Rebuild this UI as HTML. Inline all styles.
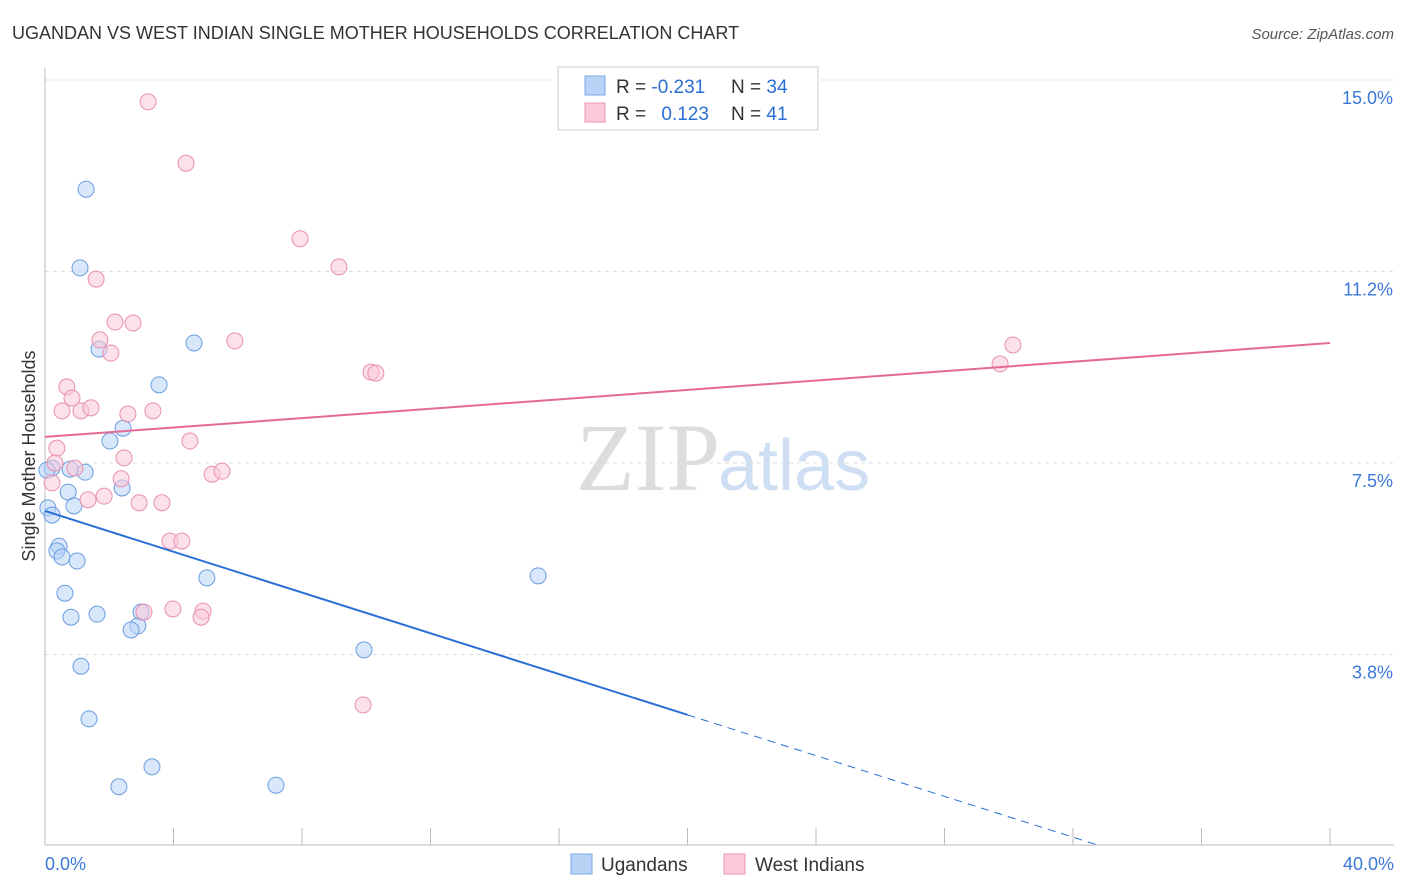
<!DOCTYPE html>
<html><head><meta charset="utf-8"><style>
body{margin:0;background:#fff;font-family:"Liberation Sans",sans-serif}
svg{display:block}
</style></head><body>
<svg id="c" width="1406" height="892">
<text x="12" y="39" font-size="18" fill="#333">UGANDAN VS WEST INDIAN SINGLE MOTHER HOUSEHOLDS CORRELATION CHART</text>
<text x="1394" y="39" font-size="15" fill="#555" font-style="italic" text-anchor="end">Source: ZipAtlas.com</text>
<text x="35" y="456" font-size="18" fill="#333" transform="rotate(-90 35 456)" text-anchor="middle">Single Mother Households</text>
<text x="720" y="490" font-size="96" fill="#ddd" text-anchor="end" font-family="Liberation Serif,serif">ZIP</text>
<text x="718" y="490" font-size="72" fill="#cfdff3">atlas</text>
<g id="grid"></g><g id="marks"></g>
<g>
<rect x="558" y="67" width="260" height="63" fill="#fff" stroke="#ccc"/>
<rect x="585" y="76" width="20" height="19" fill="#b8d3f5" stroke="#7aa8e6"/>
<rect x="585" y="103" width="20" height="19" fill="#fbc9d8" stroke="#eb95b0"/>
<text x="616" y="93" font-size="19" fill="#333">R = <tspan fill="#2a6fd6">-0.231</tspan></text>
<text x="731" y="93" font-size="19" fill="#333">N = <tspan fill="#2a6fd6">34</tspan></text>
<text x="616" y="120" font-size="19" fill="#333">R = <tspan fill="#2a6fd6" dx="10">0.123</tspan></text>
<text x="731" y="120" font-size="19" fill="#333">N = <tspan fill="#2a6fd6">41</tspan></text>
</g>
<g>
<rect x="571" y="854" width="21" height="20" fill="#b8d3f5" stroke="#7aa8e6"/>
<text x="601" y="871" font-size="19" fill="#333">Ugandans</text>
<rect x="724" y="854" width="21" height="20" fill="#fbc9d8" stroke="#eb95b0"/>
<text x="755" y="871" font-size="19" fill="#333">West Indians</text>
</g>
</svg>
<script>
const yTicks=[15,11.25,7.5,3.75];
const yTickLabels=["15.0%","11.2%","7.5%","3.8%"];
const xTicks=[0,4,8,12,16,20,24,28,32,36,40];
const xEndLabels=["0.0%","40.0%"];
const ugX=[1.28,1.09,1.68,4.64,3.55,2.43,2.02,0.22,0.78,1.25,2.40,0.72,0.09,0.90,0.22,0.44,0.37,0.53,1.00,5.04,15.35,0.62,0.81,1.62,2.99,2.89,2.68,9.93,1.12,1.37,3.33,2.30,7.19,0.06];
const ugY=[12.86,11.32,9.73,9.85,9.03,8.18,7.93,7.40,7.38,7.32,7.01,6.93,6.62,6.66,6.48,5.87,5.78,5.66,5.58,5.25,5.29,4.95,4.48,4.54,4.58,4.31,4.23,3.84,3.52,2.49,1.55,1.16,1.19,7.36];
const wiX=[3.21,4.39,7.94,9.15,1.59,2.18,2.74,1.71,2.05,5.91,30.13,29.73,10.15,10.30,0.68,0.84,0.53,1.12,1.43,2.58,3.36,0.37,4.51,2.46,0.31,0.93,5.20,5.51,2.37,0.22,1.84,1.34,2.93,3.64,3.89,4.26,3.98,4.92,4.86,3.08,9.90];
const wiY=[14.57,13.37,11.89,11.34,11.10,10.26,10.24,9.91,9.65,9.89,9.81,9.44,9.28,9.26,8.99,8.77,8.52,8.52,8.58,8.46,8.52,7.79,7.93,7.60,7.50,7.40,7.28,7.34,7.19,7.11,6.85,6.78,6.72,6.72,5.97,5.97,4.64,4.60,4.48,4.58,2.76];
const ugTrend=[6.56,-0.1996];
const wiTrend=[8.01,0.046];
const NS="http://www.w3.org/2000/svg";
const X=v=>45+v*32.125, Y=v=>846-v*51.07;
function mk(t,a,p){const e=document.createElementNS(NS,t);for(const k in a)e.setAttribute(k,a[k]);p.appendChild(e);return e;}
const g=document.getElementById('grid'),m=document.getElementById('marks');
yTicks.forEach((v,i)=>{
 const l=mk('line',{x1:45,x2:1394,y1:Y(v),y2:Y(v),stroke:'#ddd','stroke-dasharray':'4,4'},g);
 
 
 const t=mk('text',{x:1393,y:Y(v)+24,'font-size':18,fill:'#3b78d8','text-anchor':'end'},g);
 t.textContent=yTickLabels[i];
 
 
});
const ax=mk('line',{x1:45,x2:1394,y1:845,y2:845,stroke:'#bbb'},g);


const ay=mk('line',{x1:45,x2:45,y1:68,y2:845,stroke:'#bbb'},g);


xTicks.forEach(v=>{
 const l=mk('line',{x1:X(v),x2:X(v),y1:828,y2:845,stroke:'#bbb'},g);
 
 
});
[[0,'start',45],[40,'end',1394]].forEach((d,i)=>{
 const t=mk('text',{x:d[2],y:870,'font-size':18,fill:'#3b78d8','text-anchor':d[1]},g);
 t.textContent=xEndLabels[i];
 
 
});
function pts(xs,ys,fill,stroke,name){xs.forEach((x,i)=>{
 const c=mk('circle',{cx:X(x),cy:Y(ys[i]),r:8,fill:fill,'fill-opacity':0.55,stroke:stroke,'stroke-width':1},m);
 
 
});}
pts(ugX,ugY,'#b8d3f5','#6a9de0','ugandan-point');
pts(wiX,wiY,'#fbc9d8','#e890ac','west-indian-point');
const ty=(t,x)=>t[0]+t[1]*x;
let l=mk('line',{x1:X(0),y1:Y(ty(ugTrend,0)),x2:X(20),y2:Y(ty(ugTrend,20)),stroke:'#2a6fd6','stroke-width':2},m);


const xe=-ugTrend[0]/ugTrend[1];
l=mk('line',{x1:X(20),y1:Y(ty(ugTrend,20)),x2:X(xe),y2:Y(0),stroke:'#2a6fd6','stroke-width':1,'stroke-dasharray':'8,6'},m);


l=mk('line',{x1:X(0),y1:Y(ty(wiTrend,0)),x2:X(40),y2:Y(ty(wiTrend,40)),stroke:'#e46a94','stroke-width':2},m);


</script>
</body></html>
